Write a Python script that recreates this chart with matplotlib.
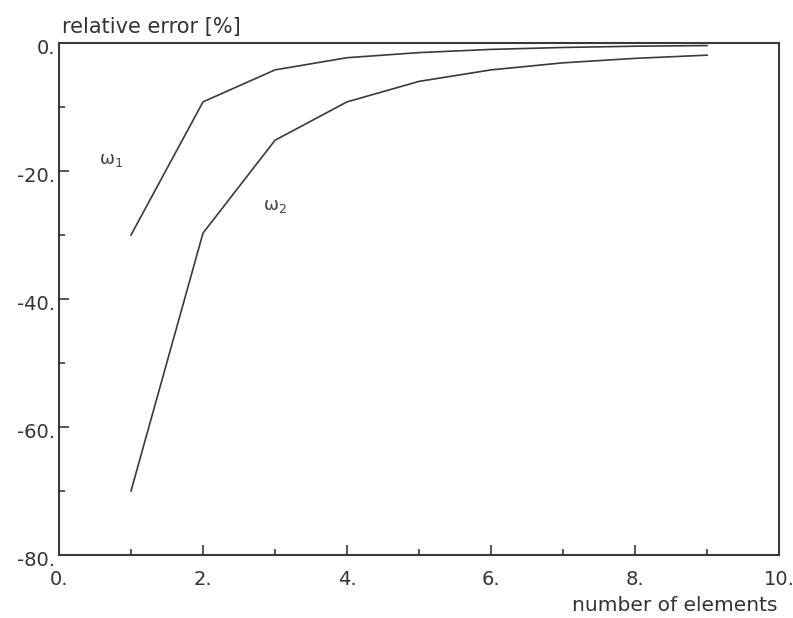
import matplotlib
matplotlib.use("Agg")
import matplotlib.pyplot as plt
import matplotlib.transforms as mtransforms
from matplotlib.ticker import MultipleLocator, FuncFormatter

n_elements = [1, 2, 3, 4, 5, 6, 7, 8, 9]
err_w1 = [-30.0, -9.2, -4.2, -2.3, -1.5, -1.0, -0.7, -0.5, -0.4]
err_w2 = [-70.0, -29.7, -15.2, -9.2, -6.0, -4.2, -3.1, -2.4, -1.9]

plt.rcParams['font.family'] = ['DejaVu Sans']
fig = plt.figure(figsize=(7.93, 6.18), dpi=100)
ax = fig.add_axes([59/793, 1-555/618, 720/793, 512/618])

col = '#3a3a3a'
ax.plot(n_elements, err_w1, color=col, lw=1.2)
ax.plot(n_elements, err_w2, color=col, lw=1.2)

ax.set_xlim(0, 10)
ax.set_ylim(-80, 0)
ax.xaxis.set_major_locator(MultipleLocator(2))
ax.xaxis.set_minor_locator(MultipleLocator(1))
ax.yaxis.set_major_locator(MultipleLocator(20))
ax.yaxis.set_minor_locator(MultipleLocator(10))
fmt = FuncFormatter(lambda v, p: f"{int(round(v))}.")
ax.xaxis.set_major_formatter(fmt)
ax.yaxis.set_major_formatter(fmt)
ax.tick_params(which='both', direction='in', color=col, width=1.2,
               labelsize=14, labelcolor='#333333')
ax.tick_params(which='major', length=7)
ax.tick_params(which='minor', length=4)
ax.tick_params(axis='x', pad=11)
ax.tick_params(axis='y', pad=3)
for s in ax.spines.values():
    s.set_color(col)
    s.set_linewidth(1.5)

# nudge y tick labels slightly downward like the reference
off = mtransforms.ScaledTranslation(0, -4/100, fig.dpi_scale_trans)
for lbl in ax.get_yticklabels():
    lbl.set_transform(lbl.get_transform() + off)

ax.text(0.55, -18.3, 'ω$_1$', fontsize=13, color='#444444', ha='left', va='center')
ax.text(2.83, -25.5, 'ω$_2$', fontsize=13, color='#444444', ha='left', va='center')

fig.text(62/793, 1-33/618, 'relative error [%]', fontsize=15, color='#333333',
         ha='left', va='baseline')
fig.text(778/793, 1-611/618, 'number of elements', fontsize=14.5, color='#333333',
         ha='right', va='baseline')

fig.savefig('out.png', dpi=100)
